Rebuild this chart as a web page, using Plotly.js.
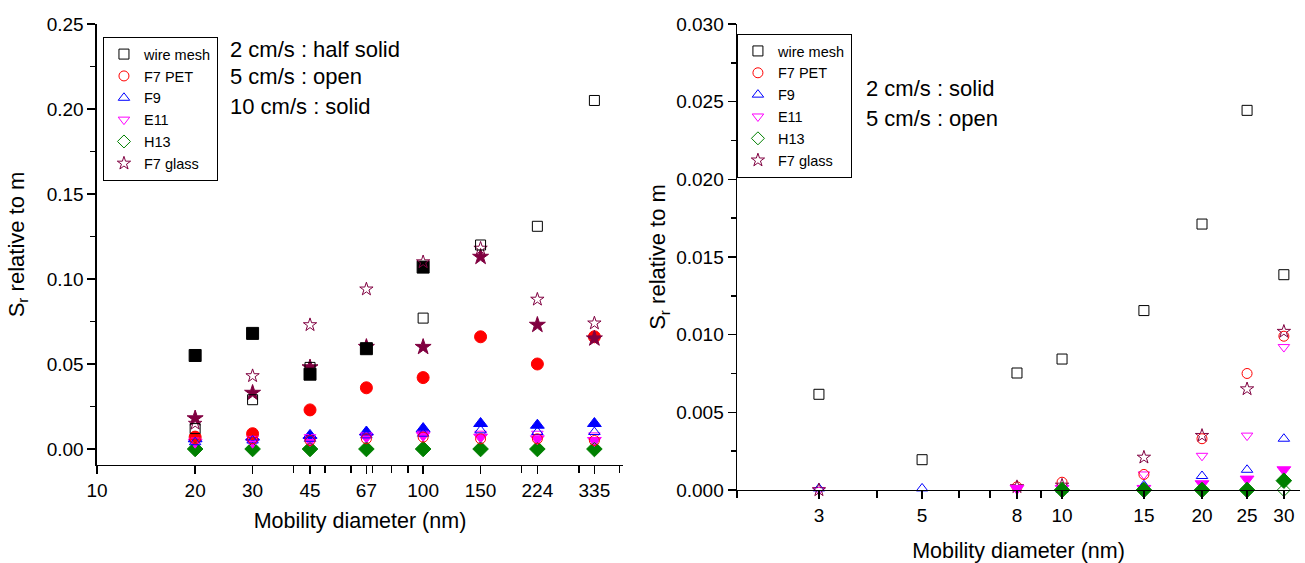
<!DOCTYPE html>
<html>
<head>
<meta charset="utf-8">
<script src="https://cdn.plot.ly/plotly-3.0.1.min.js"></script>
<style>html,body{margin:0;padding:0;background:#fff;}#chart{width:1305px;height:563px;}</style>
</head>
<body>
<div id="chart"></div>
<script>
// ---------- data ----------
const seriesNames = ["wire mesh", "F7 PET", "F9", "E11", "H13", "F7 glass"];
const seriesColors = ["#000000", "#ff0000", "#0000ff", "#ff00ff", "#008000", "#800040"];
const openSymbols = ["square-open", "circle-open", "triangle-up-open", "triangle-down-open", "diamond-open", "star-open"];
const solidSymbols = ["square", "circle", "triangle-up", "triangle-down", "diamond", "star"];

// Left panel: mobility diameter (nm)
const leftSizes = [20, 30, 45, 67, 100, 150, 224, 335];
const leftTickVals = [10, 20, 30, 45, 67, 100, 150, 224, 335];
// open markers (5 cm/s)
const leftWireOpen  = [0.012, 0.029, 0.048, 0.059, 0.077, 0.120, 0.131, 0.205];
const leftPetOpen   = [0.006, 0.006, 0.005, 0.006, 0.007, 0.006, 0.006, 0.005];
const leftF9Open    = [0.004, 0.005, 0.006, 0.008, 0.009, 0.011, 0.010, 0.010];
const leftE11Open   = [0.005, 0.006, 0.007, 0.008, 0.009, 0.009, 0.009, 0.008];
const leftH13Open   = [0.000, 0.000, 0.000, 0.000, 0.000, 0.000, 0.000, 0.000];
const leftGlassOpen = [0.015, 0.043, 0.073, 0.094, 0.110, 0.118, 0.088, 0.074];
// solid markers (10 cm/s)
const leftWireSolid  = [0.055, 0.068, 0.044, 0.059, 0.107, null, null, null];
const leftPetSolid   = [0.007, 0.009, 0.023, 0.036, 0.042, 0.066, 0.050, 0.066];
const leftF9Solid    = [0.006, 0.007, 0.008, 0.010, 0.012, 0.015, 0.014, 0.015];
const leftE11Solid   = [0.004, 0.004, 0.005, 0.007, 0.008, 0.007, 0.006, 0.005];
const leftH13Solid   = [0.000, 0.000, 0.000, 0.000, 0.000, 0.000, 0.000, 0.000];
const leftGlassSolid = [0.018, 0.033, 0.048, 0.060, 0.060, 0.113, 0.073, 0.065];

// Right panel
const rightSizes = [3, 5, 8, 10, 15, 20, 25, 30];
const rightTickVals = [3, 5, 8, 10, 15, 20, 25, 30];
// open markers (5 cm/s)
const rightWireOpen  = [0.00616, 0.00195, 0.00753, 0.00843, 0.01155, 0.01712, 0.02444, 0.01386];
const rightPetOpen   = [null, null, 0.0002, 0.0005, 0.0010, 0.0033, 0.0075, 0.0099];
const rightF9Open    = [0.0001, 0.0001, null, 0.0000, 0.0003, 0.0009, 0.0013, 0.0033];
const rightE11Open   = [0.0000, null, 0.0001, 0.0001, 0.0010, 0.0022, 0.0035, 0.0092];
const rightH13Open   = [null, null, null, 0.0000, 0.0000, 0.0000, 0.0000, 0.0000];
const rightGlassOpen = [0.0000, null, 0.0002, 0.0003, 0.0021, 0.0035, 0.0065, 0.0102];
// solid markers (2 cm/s)
const rightE11Solid  = [null, null, 0.0001, 0.0001, 0.0001, 0.0004, 0.0007, 0.0013];
const rightH13Solid  = [null, null, null, 0.0000, 0.0000, 0.0000, 0.0000, 0.0006];

// ---------- traces ----------
const traces = [];
function addTrace(x, y, idx, solid, xa, ya, legendName, showLegend) {
  traces.push({
    type: "scatter", mode: "markers", x: x, y: y,
    name: seriesNames[idx], xaxis: xa, yaxis: ya,
    legend: legendName, showlegend: showLegend, cliponaxis: false,
    marker: {
      symbol: solid ? solidSymbols[idx] : openSymbols[idx],
      color: seriesColors[idx],
      size: solid ? 12 : 10,
      line: {color: seriesColors[idx], width: 1}
    }
  });
}
const leftOpen = [leftWireOpen, leftPetOpen, leftF9Open, leftE11Open, leftH13Open, leftGlassOpen];
const leftSolid = [leftWireSolid, leftPetSolid, leftF9Solid, leftE11Solid, leftH13Solid, leftGlassSolid];
// draw order: H13 first (bottom), then E11, F9, PET, glass, wire
const leftOrder = [4, 3, 2, 1, 5, 0];
leftOrder.forEach(i => addTrace(leftSizes, leftSolid[i], i, true, "x", "y", "legend", false));
leftOrder.forEach(i => addTrace(leftSizes, leftOpen[i], i, false, "x", "y", "legend", false));
// legend entries (open symbols) in legend order
[0,1,2,3,4,5].forEach(i => addTrace([null], [null], i, false, "x", "y", "legend", true));

const rightOpen = [rightWireOpen, rightPetOpen, rightF9Open, rightE11Open, rightH13Open, rightGlassOpen];
[4, 3, 2, 1, 5, 0].forEach(i => addTrace(rightSizes, rightOpen[i], i, false, "x2", "y2", "legend2", false));
addTrace(rightSizes, rightE11Solid, 3, true, "x2", "y2", "legend2", false);
addTrace(rightSizes, rightH13Solid, 4, true, "x2", "y2", "legend2", false);
[0,1,2,3,4,5].forEach(i => addTrace([null], [null], i, false, "x2", "y2", "legend2", true));

// ---------- layout ----------
const FONT = "Liberation Sans, Arial, sans-serif";
function xAxis(domain, range, tickvals, minorVals, standoff) {
  return {
    type: "log", domain: domain, range: range,
    tickmode: "array", tickvals: tickvals, ticktext: tickvals.map(String),
    ticks: "outside", ticklen: 8, tickwidth: 1.5, tickcolor: "#000",
    showline: true, linecolor: "#000", linewidth: 1.5, showgrid: false, zeroline: false,
    tickfont: {family: FONT, size: 19, color: "#000"},
    minor: {tickmode: "array", tickvals: minorVals, ticks: "outside", ticklen: 7, tickwidth: 1.5, tickcolor: "#000", showgrid: false},
    title: {text: "Mobility diameter (nm)", font: {family: FONT, size: 21.5, color: "#000"}, standoff: standoff}
  };
}
function yAxis(domain, range, dtick, fmt, standoff) {
  return {
    domain: domain, range: range, tickmode: "linear", tick0: 0, dtick: dtick, tickformat: fmt,
    ticks: "outside", ticklen: 8, tickwidth: 1.5, tickcolor: "#000",
    showline: true, linecolor: "#000", linewidth: 1.5, showgrid: false, zeroline: false,
    tickfont: {family: FONT, size: 19, color: "#000"},
    minor: {tickmode: "linear", tick0: 0, dtick: dtick / 2, ticks: "outside", ticklen: 5, tickwidth: 1.5, tickcolor: "#000", showgrid: false},
    title: {text: "S<sub>r</sub> relative to m", font: {family: FONT, size: 22, color: "#000"}, standoff: standoff}
  };
}
const xa1 = xAxis([0.0743, 0.4774], [1, Math.log10(410)], leftTickVals, [40, 50, 60, 70, 80, 90, 200, 300, 400], 12);
xa1.anchor = "y";
const xa2 = xAxis([0.5648, 0.9962], [Math.log10(2), Math.log10(32.5)], rightTickVals, [2, 4, 6, 7, 9], 17);
xa2.anchor = "y2";
const ya1 = yAxis([0.1741, 0.9574], [-0.0094, 0.25], 0.05, ".2f", 16);
ya1.anchor = "x";
const ya2 = yAxis([0.1297, 0.9574], [0, 0.030], 0.005, ".3f", 4);
ya2.anchor = "x2";

const legendBase = {
  bgcolor: "#ffffff", bordercolor: "#000", borderwidth: 1,
  font: {family: FONT, size: 14.5, color: "#000"},
  xanchor: "left", yanchor: "top", tracegroupgap: 0, itemwidth: 30
};
const layout = {
  width: 1305, height: 563,
  margin: {l: 0, r: 0, t: 0, b: 0},
  paper_bgcolor: "#ffffff", plot_bgcolor: "#ffffff",
  showlegend: true,
  xaxis: xa1, yaxis: ya1, xaxis2: xa2, yaxis2: ya2,
  legend: Object.assign({}, legendBase, {x: 0.0789, y: 0.934}),
  legend2: Object.assign({}, legendBase, {x: 0.5647, y: 0.9396}),
  annotations: [
    {text: "2 cm/s : half solid", x: 231/1305, y: 1 - 49/563},
    {text: "5 cm/s : open", x: 231/1305, y: 1 - 77/563},
    {text: "10 cm/s : solid", x: 231/1305, y: 1 - 106/563},
    {text: "2 cm/s : solid", x: 867/1305, y: 1 - 89/563},
    {text: "5 cm/s : open", x: 867/1305, y: 1 - 118/563}
  ].map(a => Object.assign({xref: "paper", yref: "paper", xanchor: "left", yanchor: "middle", showarrow: false,
    xshift: -3, font: {family: FONT, size: 22, color: "#000"}}, a))
};

Plotly.newPlot("chart", traces, layout, {staticPlot: true, displayModeBar: false});
</script>
</body>
</html>
